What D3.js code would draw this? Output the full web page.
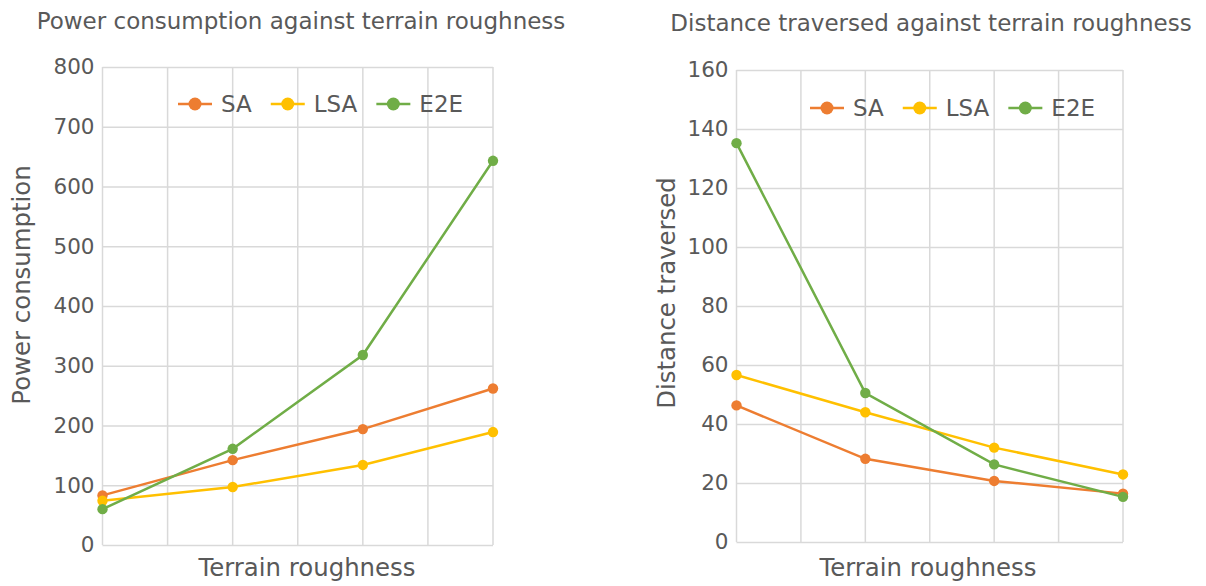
<!DOCTYPE html>
<html>
<head>
<meta charset="utf-8">
<script src="https://cdn.jsdelivr.net/npm/d3@7"></script>
<style>
  html, body { margin: 0; padding: 0; background: #fff; }
  svg { display: block; }
  text { font-family: "DejaVu Sans", sans-serif; fill: #595959; }
</style>
</head>
<body>
<svg id="chart" width="1206" height="586"></svg>
<script>
// Terrain roughness levels (four steps along the x axis)
const categories = ["1", "2", "3", "4"];
const seriesNames = ["SA", "LSA", "E2E"];
const seriesColors = ["#ED7D31", "#FFC000", "#70AD47"];

// Power consumption per method
const powerSA  = [83, 142, 194, 262];
const powerLSA = [74, 97, 134, 189];
const powerE2E = [60, 161, 318, 643];
const powerTicks = [0, 100, 200, 300, 400, 500, 600, 700, 800];

// Distance traversed per method
const distSA  = [46.3, 28.2, 20.7, 16.4];
const distLSA = [56.6, 44.0, 32.0, 22.9];
const distE2E = [135.2, 50.5, 26.3, 15.3];
const distTicks = [0, 20, 40, 60, 80, 100, 120, 140, 160];

const svg = d3.select("#chart");

function drawPanel(cfg) {
  const g = svg.append("g");
  const x = d3.scalePoint().domain(categories).range([cfg.left, cfg.right]);
  const y = d3.scaleLinear().domain([0, cfg.max]).range([cfg.bottom, cfg.top]);

  // horizontal gridlines + y tick labels
  const yAxis = d3.axisLeft(y).tickValues(cfg.ticks).tickSize(-(cfg.right - cfg.left)).tickPadding(8);
  const ya = g.append("g").attr("transform", `translate(${cfg.left},0)`).call(yAxis);
  ya.select(".domain").remove();
  ya.selectAll(".tick line").attr("stroke", "#d9d9d9").attr("stroke-width", 1.5);
  ya.selectAll(".tick text").style("font-size", "21.5px").attr("fill", "#595959");

  // vertical gridlines, midway between categories as well
  const step = x.step();
  const vx = d3.range(0, 2 * (categories.length - 1) + 1).map(i => cfg.left + i * step / 2);
  g.append("g").selectAll("line").data(vx).join("line")
    .attr("x1", d => d).attr("x2", d => d)
    .attr("y1", cfg.top).attr("y2", cfg.bottom)
    .attr("stroke", "#d9d9d9").attr("stroke-width", 1.5);

  // axis titles
  g.append("text")
    .attr("x", cfg.xTitleX).attr("y", 575.5)
    .attr("text-anchor", "middle").style("font-size", "24.4px")
    .text("Terrain roughness");
  g.append("text")
    .attr("transform", `translate(${cfg.yTitleX},${cfg.yTitleY}) rotate(-90)`)
    .attr("text-anchor", "middle").style("font-size", "24.4px")
    .text(cfg.yTitle);

  // chart title
  g.append("text")
    .attr("x", cfg.titleX).attr("y", cfg.titleY)
    .attr("text-anchor", "middle").style("font-size", "23px")
    .text(cfg.title);

  // series
  const line = d3.line().x((d, i) => x(categories[i])).y(d => y(d));
  cfg.series.forEach((vals, si) => {
    g.append("path").datum(vals)
      .attr("d", line).attr("fill", "none")
      .attr("stroke", seriesColors[si]).attr("stroke-width", 2.5);
    g.append("g").selectAll("circle").data(vals).join("circle")
      .attr("cx", (d, i) => x(categories[i])).attr("cy", d => y(d))
      .attr("r", 5.2).attr("fill", seriesColors[si]);
  });

  // legend
  const lg = g.append("g").attr("transform", `translate(${cfg.legendX},${cfg.legendY})`);
  let offset = 0;
  seriesNames.forEach((name, si) => {
    const item = lg.append("g").attr("transform", `translate(${offset},0)`);
    item.append("line").attr("x1", 0).attr("x2", 34).attr("y1", 0).attr("y2", 0)
      .attr("stroke", seriesColors[si]).attr("stroke-width", 2.5);
    item.append("circle").attr("cx", 17).attr("cy", 0).attr("r", 6.5).attr("fill", seriesColors[si]);
    const t = item.append("text").attr("x", 43).attr("y", 8).style("font-size", "23px").text(name);
    offset += 43 + t.node().getComputedTextLength() + 19;
  });
}

drawPanel({
  left: 102.5, right: 493, top: 67, bottom: 545, max: 800, ticks: powerTicks,
  series: [powerSA, powerLSA, powerE2E],
  title: "Power consumption against terrain roughness", titleX: 301, titleY: 29,
  xTitleX: 307,
  yTitle: "Power consumption", yTitleX: 30, yTitleY: 285,
  legendX: 178, legendY: 104
});

drawPanel({
  left: 736.5, right: 1123, top: 70, bottom: 542, max: 160, ticks: distTicks,
  series: [distSA, distLSA, distE2E],
  title: "Distance traversed against terrain roughness", titleX: 931, titleY: 31,
  xTitleX: 928,
  yTitle: "Distance traversed", yTitleX: 675, yTitleY: 293,
  legendX: 810, legendY: 108
});
</script>
</body>
</html>
